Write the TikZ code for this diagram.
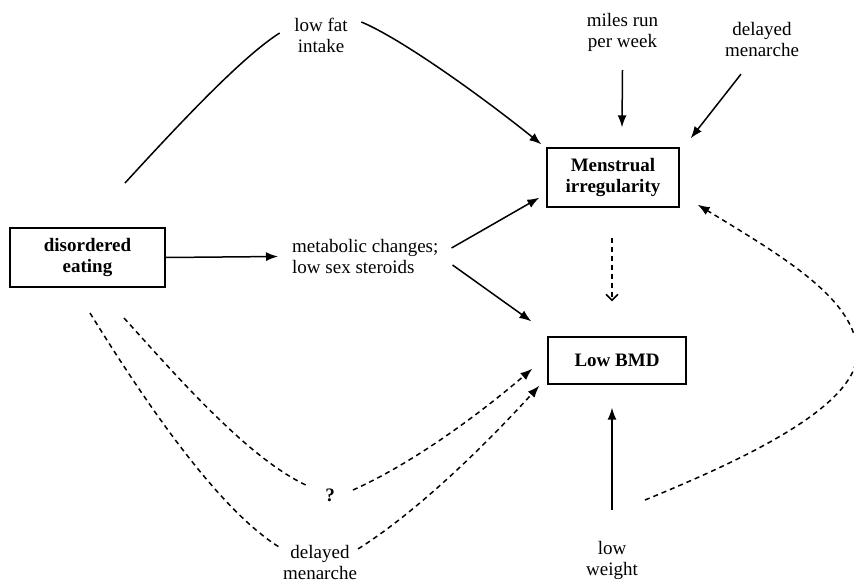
\documentclass[tikz,border=0pt]{standalone}
\usepackage{fontspec}
\setmainfont{Liberation Serif}
\usetikzlibrary{arrows.meta,calc}
\begin{document}
\begin{tikzpicture}[x=1pt,y=-1pt,
  txt/.style={inner sep=0pt, align=center, font=\fontsize{19}{21.5}\selectfont},
  box/.style={draw, line width=1.3pt, inner sep=0pt, align=center, font=\fontsize{19}{21.5}\selectfont\bfseries},
  conn/.style={line width=1.5pt},
  arr/.style={conn, -{Latex[length=12pt,width=9pt]}},
  dsh/.style={conn, dash pattern=on 5pt off 4pt},
  darr/.style={dsh, -{Latex[length=12pt,width=9pt]}},
  vtip/.style={dsh, -{Straight Barb[length=6pt,width=12pt,line width=1.5pt]}}]
\useasboundingbox (0,0) rectangle (854,584);

% boxes
\node[box, minimum width=155pt, minimum height=59pt] (de) at (87.5,257.5) {disordered\\eating};
\node[box, minimum width=132pt, minimum height=59pt] (mi) at (613,177.5) {Menstrual\\irregularity};
\node[box, minimum width=138pt, minimum height=47pt] (bmd) at (617,360.5) {Low BMD};

% text nodes
\node[txt] (lf) at (321,35.5) {low fat\\intake};
\node[txt] (mr) at (622.5,32.5) {miles run\\per week};
\node[txt] (dm1) at (762,39.5) {delayed\\menarche};
\node[txt, anchor=west, align=left] (met) at (292,256.5) {metabolic changes;\\low sex steroids};
\node[txt, font=\fontsize{19}{21.5}\selectfont\bfseries] (q) at (330,495) {?};
\node[txt] (dm2) at (320,562.5) {delayed\\menarche};
\node[txt] (lw) at (612,560.5) {low\\weight};

% free ends
\coordinate (lfstart) at (125,183);
\coordinate (dA) at (90,313);
\coordinate (dB) at (124,318);
\coordinate (rstart) at (645,500);

% solid connectors
\draw[arr] (de.east) -- ($(met.west)+(-14,0)$);
\draw[conn] (lfstart) .. controls (190,112) and (245,55) .. ($(lf.west)+(-14.5,-2.5)$);
\draw[arr] ($(lf.east)+(13.5,-13.5)$) .. controls (400,38) and (480,95) .. ($(mi.north west)+(-5,-3)$);
\draw[arr] ($(mr.south)+(0,18)$) -- ($(mi.north)+(9,-20)$);
\draw[arr] ($(dm1.south)+(-21,17)$) -- ($(mi.north east)+(11,-9)$);
\draw[arr] ($(met.east)+(13,-8.5)$) -- ($(mi.south west)+(-7,-10)$);
\draw[arr] ($(met.east)+(14,8.5)$) -- ($(bmd.north west)+(-16,-15)$);
\draw[arr] ($(lw.north)+(0,-31)$) -- ($(bmd.south)+(-5,23)$);

% dashed connectors
\draw[vtip] ($(mi.south)+(-1,30)$) -- ($(bmd.north)+(-5,-35)$);
\draw[dsh] (dA) .. controls (150,410) and (220,510) .. ($(dm2.north west)+(-4,2)$);
\draw[darr] ($(dm2.north east)+(1,4)$) .. controls (420,510) and (490,440) .. ($(bmd.south west)+(-8,1)$);
\draw[dsh] (dB) .. controls (180,380) and (250,460) .. ($(q.west)+(-17,-9)$);
\draw[darr] ($(q.east)+(18,-5)$) .. controls (420,460) and (490,405) .. ($(bmd.south west)+(-15,-16)$);
\begin{scope}
\clip (0,0) rectangle (854,584);
\draw[darr] (rstart) .. controls (730,465) and (855,410) .. (857,355)
  .. controls (859,300) and (780,255) .. ($(mi.south east)+(18,-3)$);
\end{scope}
\end{tikzpicture}
\end{document}
